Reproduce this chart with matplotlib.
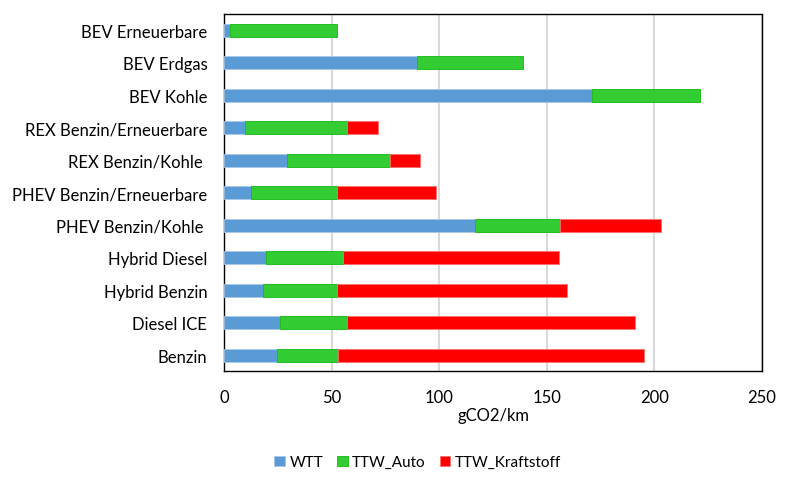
import matplotlib.pyplot as plt
import numpy as np

categories = [
    "Benzin",
    "Diesel ICE",
    "Hybrid Benzin",
    "Hybrid Diesel",
    "PHEV Benzin/Kohle ",
    "PHEV Benzin/Erneuerbare",
    "REX Benzin/Kohle ",
    "REX Benzin/Erneuerbare",
    "BEV Kohle",
    "BEV Erdgas",
    "BEV Erneuerbare",
]
wtt = [24.5, 26.2, 18.1, 19.4, 116.8, 12.7, 29.5, 9.8, 171.0, 89.5, 2.6]
ttw_auto = [28.3, 31.1, 34.6, 35.9, 39.2, 39.7, 47.8, 47.5, 50.0, 49.6, 50.1]
ttw_kraftstoff = [142.2, 133.9, 106.5, 100.2, 46.9, 46.1, 14.0, 14.3, 0, 0, 0]

plt.rcParams["font.family"] = ["Lato", "DejaVu Sans"]

fig = plt.figure(figsize=(8, 4.81), dpi=100)
ax = fig.add_axes([0.28, 0.226, 0.6725, 0.743])

y = np.arange(len(categories))
h = 0.4
wtt = np.array(wtt)
ttw_auto = np.array(ttw_auto)
ttw_kraftstoff = np.array(ttw_kraftstoff)

ax.barh(y, wtt, height=h, color="#5B9BD5", edgecolor="#A9C8EA", linewidth=0.6,
        label="WTT", zorder=3)
ax.barh(y, ttw_auto, left=wtt, height=h, color="#33CC33", edgecolor="#10B810",
        linewidth=0.6, label="TTW_Auto", zorder=3)
mask = ttw_kraftstoff > 0
ax.barh(y[mask], ttw_kraftstoff[mask], left=(wtt + ttw_auto)[mask], height=h,
        color="#FF0000", edgecolor="#FF7070", linewidth=0.6,
        label="TTW_Kraftstoff", zorder=3)

ax.set_xlim(0, 250)
ax.set_ylim(-0.5, len(categories) - 0.5)
ax.set_xticks(range(0, 251, 50))
ax.set_yticks(y)
ax.set_yticklabels(categories)
ax.tick_params(length=0, labelsize=12, colors="#000000")
ax.tick_params(axis="x", pad=13)
ax.tick_params(axis="y", pad=12)
ax.set_xlabel("gCO2/km", fontsize=12, labelpad=1)
ax.grid(axis="x", color="#D9D9D9", linewidth=1.5, zorder=0)
for s in ax.spines.values():
    s.set_color("#000000")
    s.set_linewidth(1.0)

fig.legend(loc="center", bbox_to_anchor=(0.522, 0.037), ncol=3, frameon=False,
           fontsize=11, handlelength=0.7, handleheight=0.7, handletextpad=0.3,
           columnspacing=0.9)

fig.savefig("out.png", dpi=100)
